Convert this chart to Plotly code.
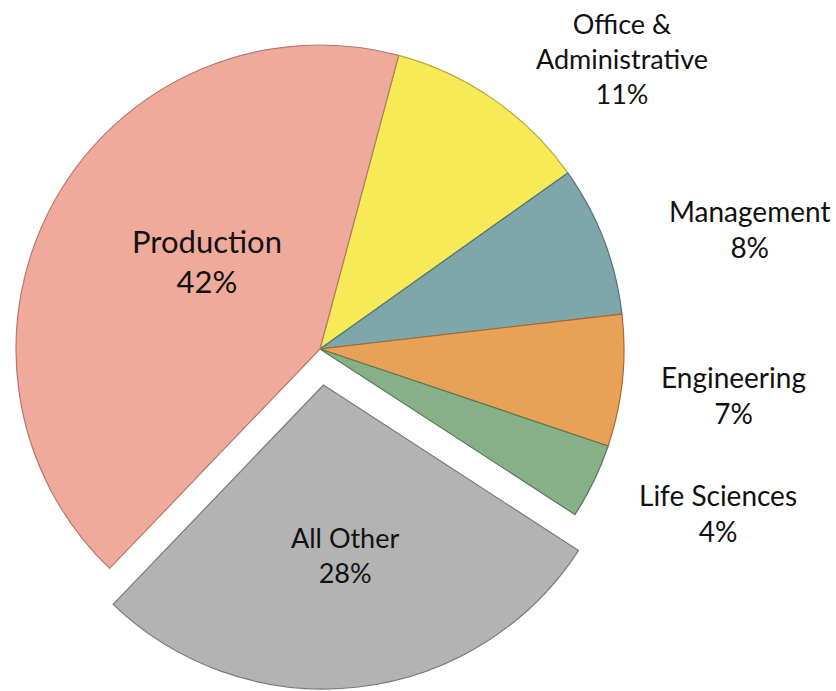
import plotly.graph_objects as go

# ---- data ----
categories = ["Office &<br>Administrative", "Management", "Engineering",
              "Life Sciences", "All Other", "Production"]
shares = [11, 8, 7, 4, 28, 42]          # percent
colors = ["#F6EA57", "#7FA6AA", "#E9A157", "#88B086", "#B3B3B3", "#F0AA9B"]
edge_colors = ["#B8A836", "#4F7478", "#A86A2C", "#557A54", "#7A7A7A", "#B5786C"]
pulled = "All Other"

W, H = 836, 691
START_ANGLE = 15  # degrees clockwise from 12 o'clock

def dom_x(cx, r):
    return [(cx - r) / W, (cx + r) / W]

def dom_y(cy, r):
    return [(H - (cy + r)) / H, (H - (cy - r)) / H]

R = 304
CX, CY = 320, 349
PX, PY = 323.5, 385  # centre of the pulled-out slice

transparent = "rgba(0,0,0,0)"
idx = categories.index(pulled)

main_colors = [c if i != idx else transparent for i, c in enumerate(colors)]
main_lines = [c if i != idx else transparent for i, c in enumerate(edge_colors)]
main_widths = [1.2 if i != idx else 0 for i in range(len(categories))]

fig = go.Figure()
fig.add_trace(go.Pie(
    labels=categories, values=shares, sort=False, direction="clockwise",
    rotation=START_ANGLE, textinfo="none", hoverinfo="skip",
    marker=dict(colors=main_colors, line=dict(color=main_lines, width=main_widths)),
    domain=dict(x=dom_x(CX, R), y=dom_y(CY, R)), showlegend=False,
))

before = sum(shares[:idx])
rest = sum(shares) - shares[idx]
fig.add_trace(go.Pie(
    labels=[pulled, "rest"], values=[shares[idx], rest], sort=False,
    direction="clockwise",
    rotation=START_ANGLE + 360 * before / sum(shares),
    textinfo="none", hoverinfo="skip",
    marker=dict(colors=[colors[idx], transparent],
                line=dict(color=[edge_colors[idx], transparent], width=[1.2, 0])),
    domain=dict(x=dom_x(PX, R), y=dom_y(PY, R)), showlegend=False,
))

label_pos = {
    "Office &<br>Administrative": (622, 59, 27),
    "Management": (749, 229, 28),
    "Engineering": (733, 395, 28),
    "Life Sciences": (718, 513, 28),
    "All Other": (345, 555, 27),
    "Production": (207, 261, 31),
}
for cat, v in zip(categories, shares):
    x, y, fs = label_pos[cat]
    fig.add_annotation(
        x=x / W, y=1 - y / H, xref="paper", yref="paper",
        text=f"{cat}<br>{v}%", showarrow=False, xanchor="center", yanchor="middle",
        font=dict(family="Lato, 'DejaVu Sans', sans-serif", size=fs, color="#111111"),
    )

fig.update_layout(
    width=W, height=H, margin=dict(l=0, r=0, t=0, b=0),
    paper_bgcolor="white", plot_bgcolor="white",
)
fig.write_html("out.html", config={"displayModeBar": False},
               post_script="document.body.style.margin='0';document.body.style.overflow='hidden';")
